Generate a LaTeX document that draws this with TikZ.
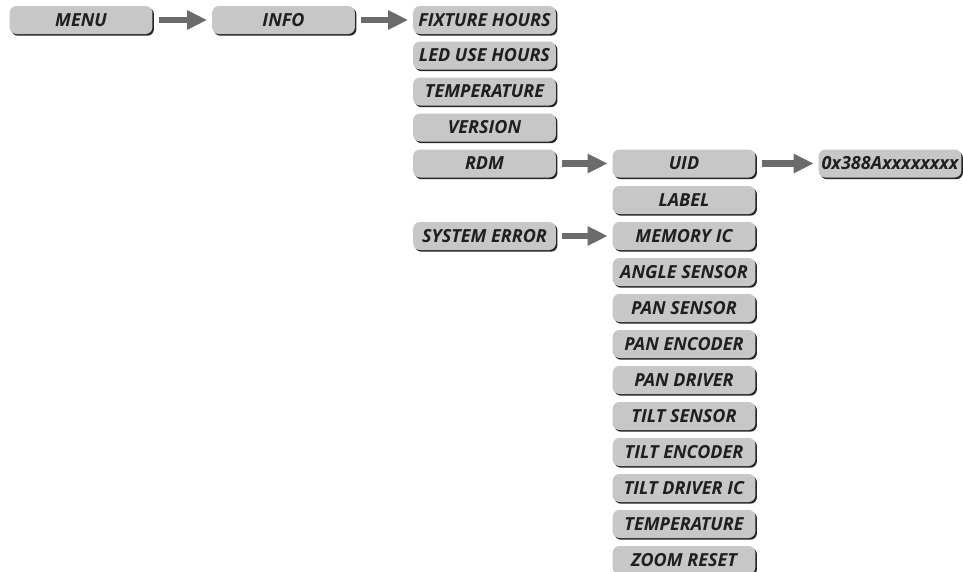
\documentclass[tikz,border=0pt]{standalone}
\usepackage{fontspec}
\setmainfont{Open Sans}
\usetikzlibrary{shadows,arrows.meta}

\begin{document}
\begin{tikzpicture}[
    x=0.75pt, y=-0.75pt,
    menubox/.style={rectangle, rounded corners=5pt, fill=black!22, inner sep=0pt,
      minimum width=107pt, minimum height=21pt,
      font=\fontsize{13.5}{15}\selectfont\bfseries\itshape, text=black!88,
      drop shadow={shadow xshift=1.2pt, shadow yshift=-1.3pt, fill=black!85, opacity=1}},
    flow/.style={draw=black!58, line width=5pt, shorten <=4.5pt, shorten >=3.5pt,
      -{Triangle[width=13.5pt, length=15pt]}}
]
  \useasboundingbox (0,0) rectangle (963,571);
  % first level
  \node[menubox] (menu) at (81,20) {MENU};
  \node[menubox] (info) at (283.5,20) {INFO};
  % info entries
  \node[menubox] (fixture) at (484.5,20) {FIXTURE HOURS};
  \node[menubox] (ledhours) at (484.5,55.5) {LED USE HOURS};
  \node[menubox] (temp) at (484.5,91.5) {TEMPERATURE};
  \node[menubox] (version) at (484.5,127.5) {VERSION};
  \node[menubox] (rdm) at (484.5,163.5) {RDM};
  \node[menubox] (syserr) at (484.5,236) {SYSTEM ERROR};
  % rdm entries
  \node[menubox] (uid) at (684,163.5) {UID};
  \node[menubox] (label) at (684,200) {LABEL};
  \node[menubox] (uidval) at (890,163.5) {0x388Axxxxxxxx};
  % system error entries
  \node[menubox] (memory) at (684,236) {MEMORY IC};
  \node[menubox] (angle) at (684,272) {ANGLE SENSOR};
  \node[menubox] (pansens) at (684,308) {PAN SENSOR};
  \node[menubox] (panenc) at (684,344) {PAN ENCODER};
  \node[menubox] (pandrv) at (684,380) {PAN DRIVER};
  \node[menubox] (tiltsens) at (684,416) {TILT SENSOR};
  \node[menubox] (tiltenc) at (684,452) {TILT ENCODER};
  \node[menubox] (tiltdrv) at (684,488) {TILT DRIVER IC};
  \node[menubox] (errtemp) at (684,524) {TEMPERATURE};
  \node[menubox] (zoom) at (684,560) {ZOOM RESET};
  % arrows
  \draw[flow] (menu) -- (info);
  \draw[flow] (info) -- (fixture);
  \draw[flow] (rdm) -- (uid);
  \draw[flow] (uid) -- (uidval);
  \draw[flow] (syserr) -- (memory);
\end{tikzpicture}
\end{document}
